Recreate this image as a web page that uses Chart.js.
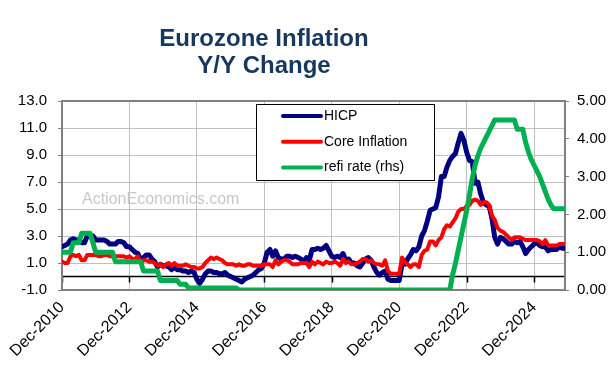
<!DOCTYPE html>
<html lang="en">
<head>
<meta charset="UTF-8">
<title>Eurozone Inflation Y/Y Change</title>
<script src="https://cdn.jsdelivr.net/npm/chart.js"></script>
<style>
  html, body { margin: 0; padding: 0; background: #fff; }
  #wrap { width: 612px; height: 365px; }
</style>
</head>
<body>
<div id="wrap"><canvas id="inflChart" width="612" height="365"></canvas></div>
<script>
// one value per month, Dec-2010 .. Nov-2025 (index = months since Dec-2010)
const titleLines = ['Eurozone Inflation', 'Y/Y Change'];
const seriesNames = ['HICP', 'Core Inflation', 'refi rate (rhs)'];
const watermark = 'ActionEconomics.com';
const xTickMonths = [0, 24, 48, 72, 96, 120, 144, 168];
const xTickLabels = ['Dec-2010', 'Dec-2012', 'Dec-2014', 'Dec-2016', 'Dec-2018', 'Dec-2020', 'Dec-2022', 'Dec-2024'];
const leftTicks = [-1, 1, 3, 5, 7, 9, 11, 13];
const rightTicks = [0, 1, 2, 3, 4, 5];

const hicp = [2.2,
  2.3, 2.4, 2.7, 2.8, 2.7, 2.7, 2.5, 2.5, 3.0, 3.0, 3.0, 2.7,
  2.7, 2.7, 2.7, 2.6, 2.4, 2.4, 2.4, 2.6, 2.6, 2.5, 2.2, 2.2,
  2.0, 1.8, 1.7, 1.2, 1.4, 1.6, 1.6, 1.3, 1.1, 0.7, 0.9, 0.8,
  0.8, 0.7, 0.5, 0.7, 0.5, 0.5, 0.4, 0.4, 0.3, 0.4, 0.3, -0.2,
  -0.5, -0.2, 0.2, 0.4, 0.4, 0.3, 0.3, 0.2, 0.2, 0.3, 0.1, 0.0,
  -0.1, -0.2, -0.3, -0.4, -0.2, -0.1, 0.0, 0.1, 0.3, 0.5, 0.6, 1.0,
  1.8, 2.0, 1.5, 1.9, 1.4, 1.3, 1.3, 1.5, 1.5, 1.4, 1.5, 1.4,
  1.3, 1.1, 1.4, 1.2, 2.0, 2.0, 2.1, 2.0, 2.1, 2.3, 1.9, 1.5,
  1.4, 1.5, 1.4, 1.7, 1.2, 1.3, 1.0, 1.0, 0.8, 0.7, 1.0, 1.3,
  1.4, 1.2, 0.7, 0.3, 0.1, 0.3, 0.4, -0.2, -0.3, -0.3, -0.3, -0.3,
  0.9, 0.9, 1.3, 1.6, 2.0, 1.9, 2.2, 3.0, 3.4, 4.1, 4.9, 5.0,
  5.1, 5.9, 7.4, 7.4, 8.1, 8.6, 8.9, 9.1, 9.9, 10.6, 10.1, 9.2,
  8.6, 8.5, 6.9, 7.0, 6.1, 5.5, 5.3, 5.2, 4.3, 2.9, 2.4, 2.9,
  2.8, 2.6, 2.4, 2.4, 2.6, 2.5, 2.6, 2.2, 1.7, 2.0, 2.2, 2.4,
  2.5, 2.3, 2.2, 2.2, 1.9, 2.0, 2.0, 2.0, 2.2, 2.1, 2.1];

const core = [1.1,
  1.0, 1.0, 1.5, 1.6, 1.5, 1.6, 1.2, 1.2, 1.6, 1.6, 1.6, 1.6,
  1.5, 1.5, 1.6, 1.6, 1.5, 1.5, 1.5, 1.5, 1.5, 1.5, 1.4, 1.5,
  1.3, 1.3, 1.5, 1.0, 1.2, 1.2, 1.1, 1.1, 1.0, 0.8, 0.9, 0.7,
  0.9, 1.0, 0.8, 1.0, 0.8, 0.8, 0.8, 0.9, 0.8, 0.7, 0.7, 0.6,
  0.6, 0.7, 1.0, 1.2, 1.4, 1.3, 1.4, 1.3, 1.2, 1.0, 0.9, 0.9,
  0.9, 0.8, 0.9, 0.8, 0.8, 0.9, 0.9, 0.8, 0.8, 0.8, 0.8, 0.9,
  0.9, 0.9, 0.7, 1.2, 0.9, 1.1, 1.2, 1.2, 1.1, 0.9, 0.9, 0.9,
  1.0, 1.0, 1.0, 0.7, 1.1, 0.9, 1.1, 1.0, 0.9, 1.1, 1.0, 1.0,
  1.1, 1.0, 0.8, 1.3, 1.0, 1.1, 0.9, 0.9, 1.0, 1.1, 1.3, 1.3,
  1.1, 1.2, 1.0, 0.9, 0.9, 0.8, 1.2, 0.4, 0.2, 0.2, 0.2, 0.2,
  1.4, 1.1, 0.9, 0.7, 0.9, 0.9, 0.7, 1.6, 1.9, 2.0, 2.6, 2.6,
  2.3, 2.7, 2.9, 3.5, 3.8, 3.7, 4.0, 4.3, 4.8, 5.0, 5.0, 5.2,
  5.3, 5.6, 5.7, 5.6, 5.3, 5.5, 5.5, 5.3, 4.5, 4.2, 3.6, 3.4,
  3.3, 3.1, 2.9, 2.7, 2.9, 2.9, 2.9, 2.8, 2.7, 2.7, 2.7, 2.7,
  2.7, 2.6, 2.4, 2.7, 2.3, 2.3, 2.3, 2.3, 2.4, 2.4, 2.4];

const refi = [1.0,
  1.0, 1.0, 1.0, 1.25, 1.25, 1.25, 1.5, 1.5, 1.5, 1.5, 1.25, 1.0,
  1.0, 1.0, 1.0, 1.0, 1.0, 1.0, 0.75, 0.75, 0.75, 0.75, 0.75, 0.75,
  0.75, 0.75, 0.75, 0.75, 0.5, 0.5, 0.5, 0.5, 0.5, 0.5, 0.25, 0.25,
  0.25, 0.25, 0.25, 0.25, 0.25, 0.15, 0.15, 0.15, 0.05, 0.05, 0.05, 0.05,
  0.05, 0.05, 0.05, 0.05, 0.05, 0.05, 0.05, 0.05, 0.05, 0.05, 0.05, 0.05,
  0.05, 0.05, 0, 0, 0, 0, 0, 0, 0, 0, 0, 0,
  0, 0, 0, 0, 0, 0, 0, 0, 0, 0, 0, 0,
  0, 0, 0, 0, 0, 0, 0, 0, 0, 0, 0, 0,
  0, 0, 0, 0, 0, 0, 0, 0, 0, 0, 0, 0,
  0, 0, 0, 0, 0, 0, 0, 0, 0, 0, 0, 0,
  0, 0, 0, 0, 0, 0, 0, 0, 0, 0, 0, 0,
  0, 0, 0, 0, 0, 0, 0.4, 0.7, 1.05, 1.4, 1.75, 2.1,
  2.5, 2.95, 3.3, 3.55, 3.75, 3.9, 4.05, 4.2, 4.35, 4.5, 4.5, 4.5,
  4.5, 4.5, 4.5, 4.5, 4.5, 4.25, 4.25, 4.25, 3.9, 3.65, 3.45, 3.3,
  3.15, 3.0, 2.8, 2.6, 2.4, 2.25, 2.15, 2.15, 2.15, 2.15, 2.15];

const FONT = "'Liberation Sans', Arial, sans-serif";
Chart.defaults.font.family = FONT;
Chart.defaults.color = '#000';

function toPoints(arr) {
  return arr.map((v, i) => ({ x: i, y: v }));
}

// frame, zero line, watermark, title and boxed legend
const decorPlugin = {
  id: 'decor',
  beforeDatasetsDraw(chart) {
    const { ctx, chartArea: a, scales } = chart;
    ctx.save();
    ctx.fillStyle = '#C8C8C8';
    ctx.font = '16px ' + FONT;
    ctx.textBaseline = 'middle';
    ctx.fillText(watermark, a.left + 20, a.top + 99);

    const y0 = scales.y.getPixelForValue(0);
    ctx.strokeStyle = '#000';
    ctx.lineWidth = 1.5;
    ctx.beginPath();
    ctx.moveTo(a.left, y0);
    ctx.lineTo(a.right, y0);
    xTickMonths.forEach(m => {
      const x = Math.round(scales.x.getPixelForValue(m)) + 0.5;
      ctx.moveTo(x, y0);
      ctx.lineTo(x, y0 + 6);
    });
    ctx.stroke();

    ctx.strokeStyle = '#808080';
    ctx.lineWidth = 2;
    ctx.strokeRect(a.left, a.top, a.right - a.left, a.bottom - a.top);
    ctx.restore();
  },
  afterDraw(chart) {
    const ctx = chart.ctx;
    ctx.save();
    ctx.fillStyle = '#17375E';
    ctx.font = 'bold 24px ' + FONT;
    ctx.textAlign = 'center';
    ctx.textBaseline = 'alphabetic';
    ctx.fillText(titleLines[0], 264, 46);
    ctx.fillText(titleLines[1], 264, 73);

    // legend box
    ctx.fillStyle = '#fff';
    ctx.fillRect(256, 104, 178, 76);
    ctx.strokeStyle = '#000';
    ctx.lineWidth = 1;
    ctx.strokeRect(256.5, 104.5, 178, 76);
    ctx.font = '14px ' + FONT;
    ctx.textAlign = 'left';
    ctx.textBaseline = 'middle';
    chart.data.datasets.forEach((ds, i) => {
      const y = 116 + i * 25.7;
      ctx.strokeStyle = ds.borderColor;
      ctx.lineWidth = 4;
      ctx.lineCap = 'round';
      ctx.beginPath();
      ctx.moveTo(283, y);
      ctx.lineTo(321, y);
      ctx.stroke();
      ctx.fillStyle = '#000';
      ctx.fillText(ds.label, 324, y);
    });
    ctx.restore();
  }
};

const ctx = document.getElementById('inflChart').getContext('2d');
new Chart(ctx, {
  type: 'line',
  data: {
    datasets: [
      { label: seriesNames[0], data: toPoints(hicp), borderColor: '#000080', borderWidth: 5, yAxisID: 'y', order: 2 },
      { label: seriesNames[1], data: toPoints(core), borderColor: '#FF0000', borderWidth: 4, yAxisID: 'y', order: 1 },
      { label: seriesNames[2], data: toPoints(refi), borderColor: '#00B050', borderWidth: 5, yAxisID: 'y1', order: 0 }
    ]
  },
  options: {
    responsive: false,
    animation: false,
    devicePixelRatio: 1,
    elements: {
      point: { radius: 0 },
      line: { tension: 0, borderJoinStyle: 'round', borderCapStyle: 'round' }
    },
    layout: { padding: { top: 101, left: 0, right: 0, bottom: 0 } },
    plugins: {
      legend: { display: false },
      tooltip: { enabled: false }
    },
    scales: {
      x: {
        type: 'linear',
        min: 0,
        max: hicp.length - 1,
        afterBuildTicks: s => { s.ticks = xTickMonths.map(v => ({ value: v })); },
        afterFit: s => { s.height = 75; },
        grid: { color: '#C0C0C0', drawTicks: false },
        border: { display: false },
        ticks: {
          autoSkip: false, minRotation: 45, maxRotation: 45, padding: 8,
          font: { size: 16 },
          callback: v => xTickLabels[xTickMonths.indexOf(v)]
        }
      },
      y: {
        position: 'left',
        min: -1,
        max: 13,
        afterBuildTicks: s => { s.ticks = leftTicks.map(v => ({ value: v })); },
        afterFit: s => { s.width = 62; },
        grid: { color: '#C0C0C0', tickColor: '#808080', tickLength: 4 },
        border: { display: false },
        ticks: { padding: 11, font: { size: 15 }, callback: v => v.toFixed(1) }
      },
      y1: {
        position: 'right',
        min: 0,
        max: 5,
        afterBuildTicks: s => { s.ticks = rightTicks.map(v => ({ value: v })); },
        afterFit: s => { s.width = 47; },
        grid: { drawOnChartArea: false, tickColor: '#808080', tickLength: 4 },
        border: { display: false },
        ticks: { padding: 8, font: { size: 15 }, callback: v => v.toFixed(2) }
      }
    }
  },
  plugins: [decorPlugin]
});
</script>
</body>
</html>
